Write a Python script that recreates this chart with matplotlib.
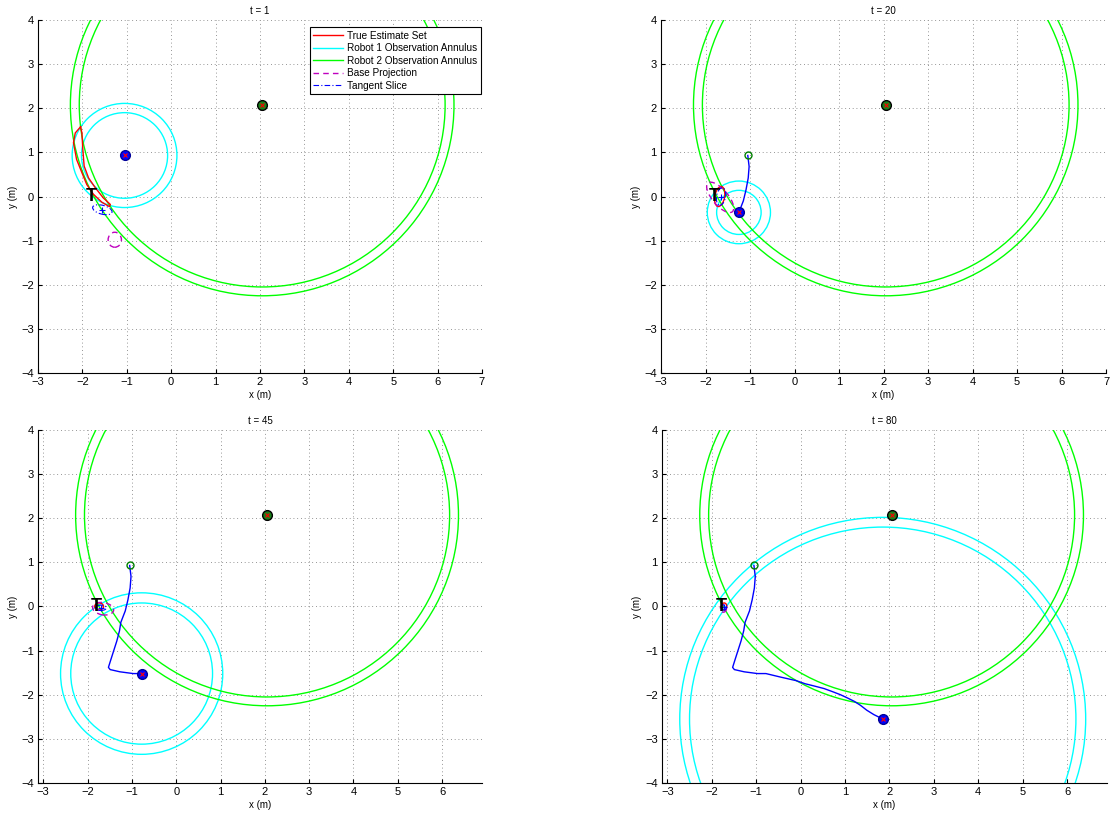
import matplotlib.pyplot as plt
from matplotlib.patches import Circle, Ellipse

plt.rcParams['font.family'] = ['Liberation Sans', 'DejaVu Sans']

# robot 2 sits still, robot 1 drives along the odometry path
robot2 = (2.05, 2.07)
robot2_radii = [4.12, 4.32]
target = (-1.92, 0.0)

path_x = [-1.05, -1.02, -1.04, -1.09, -1.15, -1.25, -1.28, -1.34, -1.41, -1.48, -1.53, -1.49, -1.27, -0.97, -0.78,
          -0.45, -0.10, 0.10, 0.30, 0.53, 0.72, 0.90, 1.05, 1.21, 1.35, 1.49, 1.65, 1.85]
path_y = [0.93, 0.68, 0.42, 0.15, -0.10, -0.36, -0.55, -0.78, -1.00, -1.22, -1.38, -1.43, -1.48, -1.52, -1.52,
          -1.60, -1.68, -1.75, -1.80, -1.86, -1.93, -2.00, -2.07, -2.15, -2.24, -2.35, -2.45, -2.55]

times = [1, 20, 45, 80]
path_end = [0, 5, 14, 27]
robot1_radii = [[0.97, 1.18], [0.50, 0.71], [1.60, 1.83], [4.35, 4.57]]

# t = 1 estimate set outline
est1_x = [-2.04, -2.16, -2.20, -2.13, -2.01, -1.90, -1.75, -1.56, -1.39, -1.37, -1.53, -1.71, -1.86, -1.96, -1.99, -2.01, -2.04]
est1_y = [1.58, 1.44, 1.22, 0.84, 0.54, 0.27, 0.05, -0.13, -0.23, -0.18, -0.03, 0.20, 0.42, 0.69, 1.07, 1.44, 1.58]

# later estimate sets as ellipses: centre x, centre y, width, height, angle
est_red = [None, (-1.68, 0.0, 0.22, 0.46, -10), (-1.74, 0.0, 0.20, 0.16, 0), (-1.72, 0.0, 0.12, 0.16, 0)]
est_base = [(-1.27, -0.98, 0.30, 0.34, 0), (-1.67, -0.02, 0.85, 0.35, -50), (-1.65, -0.05, 0.48, 0.28, -10),
            (-1.74, -0.05, 0.14, 0.16, 0)]
est_slice = [(-1.55, -0.30, 0.45, 0.20, -15), (-1.65, 0.0, 0.20, 0.40, -10), (-1.70, -0.03, 0.25, 0.12, 0),
             (-1.72, -0.02, 0.10, 0.12, 0)]

LIME = (0, 1, 0)
CYAN = (0, 1, 1)

fig = plt.figure(figsize=(11.1, 8.13), dpi=100)
positions = [[0.0342, 0.5412, 0.4000, 0.4342], [0.5955, 0.5412, 0.4009, 0.4342],
             [0.0342, 0.0369, 0.4000, 0.4342], [0.5964, 0.0369, 0.4009, 0.4342]]

for k in range(4):
    ax = fig.add_axes(positions[k])
    r1x = path_x[path_end[k]]
    r1y = path_y[path_end[k]]

    for r in robot1_radii[k]:
        ax.add_patch(Circle((r1x, r1y), r, fill=False, ec=CYAN, lw=1.0, zorder=2))
    for r in robot2_radii:
        ax.add_patch(Circle(robot2, r, fill=False, ec=LIME, lw=1.0, zorder=2))

    h_red = None
    if k == 0:
        h_red, = ax.plot(est1_x, est1_y, color='r', lw=1.0, zorder=3)
    else:
        cx, cy, w, h, a = est_red[k]
        ax.add_patch(Ellipse((cx, cy), w, h, angle=a, fill=False, ec='r', lw=1.0, zorder=3))

    cx, cy, w, h, a = est_base[k]
    ax.add_patch(Ellipse((cx, cy), w, h, angle=a, fill=False, ec='m', lw=1.0, ls=(0, (4, 3)), zorder=3))
    cx, cy, w, h, a = est_slice[k]
    ax.add_patch(Ellipse((cx, cy), w, h, angle=a, fill=False, ec='b', lw=0.8, ls=(0, (5, 2, 1, 2)), zorder=3))
    ax.plot(cx, cy, '+', color='b', ms=5, mew=0.8, zorder=3)

    if k > 0:
        ax.plot(path_x[:path_end[k] + 1], path_y[:path_end[k] + 1], color='b', lw=1.0, zorder=4)
        ax.plot(path_x[0], path_y[0], 'o', mfc='none', mec=(0, 0.5, 0), ms=5, mew=1.0, zorder=4)

    ax.plot(robot2[0], robot2[1], 'o', mfc=(0.1, 0.5, 0.1), mec='k', ms=7, mew=1.0, zorder=5)
    ax.plot(robot2[0], robot2[1], 'x', color='r', ms=3.5, mew=0.8, zorder=5)
    ax.plot(r1x, r1y, 'o', mfc='b', mec=(0, 0, 0.6), ms=7, mew=1.0, zorder=5)
    ax.plot(r1x, r1y, 'x', color='r', ms=3.5, mew=0.8, zorder=5)

    ax.text(target[0], target[1], 'T', fontsize=13, fontweight='bold', ha='left', va='center', zorder=6)

    if k == 0:
        h_cyan, = ax.plot([], [], color=CYAN, lw=1.0)
        h_lime, = ax.plot([], [], color=LIME, lw=1.0)
        h_mag, = ax.plot([], [], color='m', lw=1.0, ls=(0, (4, 3)))
        h_blue, = ax.plot([], [], color='b', lw=0.8, ls=(0, (5, 2, 1, 2)))
        leg = ax.legend([h_red, h_cyan, h_lime, h_mag, h_blue],
                        ['True Estimate Set', 'Robot 1 Observation Annulus', 'Robot 2 Observation Annulus',
                         'Base Projection', 'Tangent Slice'],
                        loc='upper right', bbox_to_anchor=(0.998, 0.98), borderaxespad=0, fontsize=7.2,
                        handlelength=3.0, handletextpad=0.4, fancybox=False, framealpha=1,
                        borderpad=0.35, labelspacing=0.25)
        leg.get_frame().set_edgecolor('k')
        leg.get_frame().set_linewidth(0.8)
        leg.set_zorder(10)

    if k < 2:
        ax.set_xlim(-3, 7)
        ax.set_xticks(range(-3, 8))
    else:
        ax.set_xlim(-3.12, 6.9)
        ax.set_xticks(range(-3, 7))
    ax.set_ylim(-4, 4)
    ax.set_yticks(range(-4, 5))

    ax.grid(True, color='0.45', ls=(0, (1, 3.5)), lw=0.6)
    ax.set_axisbelow(True)
    for s in ['top', 'right']:
        ax.spines[s].set_visible(False)
    for s in ['left', 'bottom']:
        ax.spines[s].set_linewidth(0.8)
    ax.tick_params(direction='in', length=3, labelsize=8, pad=3)
    ax.set_xlabel('x (m)', fontsize=7, labelpad=2)
    ax.set_ylabel('y (m)', fontsize=7, labelpad=2)
    ax.set_title('t = %d' % times[k], fontsize=7, pad=4)

fig.savefig('out.png', dpi=100)
